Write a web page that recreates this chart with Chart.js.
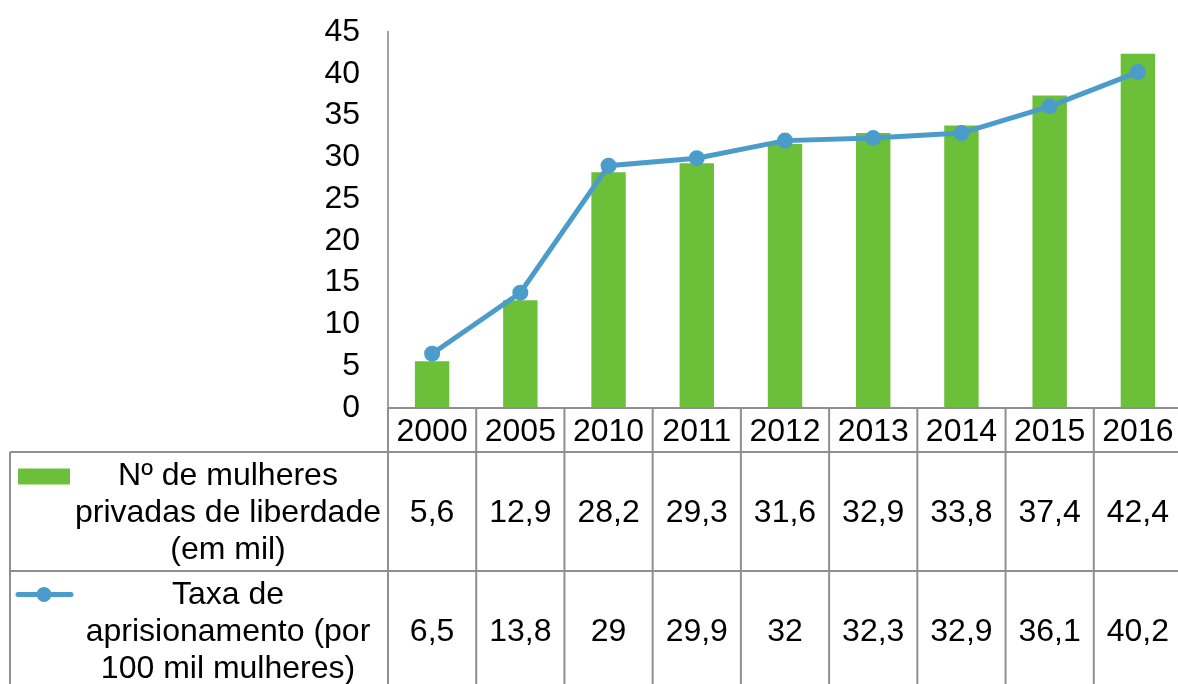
<!DOCTYPE html>
<html>
<head>
<meta charset="utf-8">
<script src="https://cdn.jsdelivr.net/npm/chart.js@4"></script>
<style>
  html, body { margin: 0; padding: 0; background: #fff; overflow: hidden; }
  #wrap { width: 1178px; height: 684px; overflow: hidden; }
</style>
</head>
<body>
<div id="wrap"><canvas id="myChart" width="1190" height="684"></canvas></div>
<script>
// data
const years = ['2000', '2005', '2010', '2011', '2012', '2013', '2014', '2015', '2016']
const mulheres = [5.6, 12.9, 28.2, 29.3, 31.6, 32.9, 33.8, 37.4, 42.4]
const taxa = [6.5, 13.8, 29, 29.9, 32, 32.3, 32.9, 36.1, 40.2]
const labelMulheres = ['Nº de mulheres', 'privadas de liberdade', '(em mil)']
const labelTaxa = ['Taxa de', 'aprisionamento (por', '100 mil mulheres)']
const yTicks = [0, 5, 10, 15, 20, 25, 30, 35, 40, 45]

const green = '#6cbf38'
const blue = '#4b9cca'
const gridGray = '#8f8f8f'
const FONT = '32px "Liberation Sans", Arial, sans-serif'

const fmt = (v) => String(v).replace('.', ',')

// draws the data table under the plot (years + values + legend keys)
const tablePlugin = {
    id: 'dataTable',
    afterDraw(chart) {
        const ctx = chart.ctx
        const area = chart.chartArea
        const x = chart.scales.x
        const step = x.width / years.length
        const left = 10
        const axisX = area.left
        const top = area.bottom
        const hdrBottom = top + 44
        const row1Bottom = hdrBottom + 119
        const bottom = chart.height + 10

        ctx.save()
        ctx.strokeStyle = gridGray
        ctx.lineWidth = 2
        ctx.beginPath()
        // header top
        ctx.moveTo(axisX, top); ctx.lineTo(area.right + 5, top)
        // row lines
        ctx.moveTo(left, hdrBottom); ctx.lineTo(area.right + 5, hdrBottom)
        ctx.moveTo(left, row1Bottom); ctx.lineTo(area.right + 5, row1Bottom)
        // left border + axis continuation
        ctx.moveTo(left, hdrBottom); ctx.lineTo(left, bottom)
        ctx.moveTo(axisX, top); ctx.lineTo(axisX, bottom)
        // column separators
        years.forEach((y, i) => {
            const cx = x.getPixelForValue(i) + step / 2
            ctx.moveTo(cx, top); ctx.lineTo(cx, bottom)
        })
        ctx.stroke()

        ctx.fillStyle = '#000'
        ctx.font = FONT
        ctx.textAlign = 'center'
        ctx.textBaseline = 'middle'
        const hdrMid = (top + hdrBottom) / 2 + 2
        const r1Mid = (hdrBottom + row1Bottom) / 2 + 2
        const r2Mid = row1Bottom + 119 / 2 + 2
        years.forEach((y, i) => {
            const cx = x.getPixelForValue(i)
            ctx.fillText(y, cx, hdrMid)
            ctx.fillText(fmt(mulheres[i]), cx, r1Mid)
            ctx.fillText(fmt(taxa[i]), cx, r2Mid)
        })

        // legend texts
        const textX = 228
        const lh = 37
        labelMulheres.forEach((t, k) => ctx.fillText(t, textX, r1Mid + (k - 1) * lh))
        labelTaxa.forEach((t, k) => ctx.fillText(t, textX, r2Mid + (k - 1) * lh))

        // legend keys
        ctx.fillStyle = green
        ctx.fillRect(18, r1Mid - lh - 8, 52, 16)
        const ky = r2Mid - lh - 1
        ctx.strokeStyle = blue
        ctx.lineWidth = 5
        ctx.lineCap = 'round'
        ctx.beginPath()
        ctx.moveTo(18, ky); ctx.lineTo(71, ky)
        ctx.stroke()
        ctx.fillStyle = blue
        ctx.beginPath()
        ctx.arc(44, ky, 7.5, 0, Math.PI * 2)
        ctx.fill()
        ctx.restore()
    }
}

var ctx = document.getElementById('myChart').getContext('2d')
var chart = new Chart(ctx, {
    type: 'bar',
    data: {
        labels: years,
        datasets: [{
            type: 'line',
            label: labelTaxa.join(' '),
            data: taxa,
            borderColor: blue,
            backgroundColor: blue,
            borderWidth: 5,
            pointRadius: 8,
            pointBackgroundColor: blue,
            pointBorderWidth: 0,
            tension: 0,
            order: 0
        }, {
            label: labelMulheres.join(' '),
            data: mulheres,
            backgroundColor: green,
            categoryPercentage: 1,
            barPercentage: 0.39,
            order: 1
        }]
    },
    options: {
        responsive: false,
        animation: false,
        layout: { padding: { top: 32, bottom: 276, left: 0, right: 1 } },
        plugins: {
            legend: { display: false },
            tooltip: { enabled: false }
        },
        scales: {
            x: {
                display: false,
                offset: true
            },
            y: {
                min: 0,
                max: 45,
                afterBuildTicks: (scale) => { scale.ticks = yTicks.map((v) => ({ value: v })) },
                afterFit: (scale) => {
                    scale.width = 388
                    scale.paddingTop = 0
                    scale.paddingBottom = 0
                },
                grid: { display: false, drawTicks: false },
                border: { display: true, color: '#a0a0a0', width: 2 },
                ticks: {
                    color: '#000',
                    padding: 28,
                    font: { family: '"Liberation Sans", Arial, sans-serif', size: 32 }
                }
            }
        }
    },
    plugins: [tablePlugin]
})
</script>
</body>
</html>
